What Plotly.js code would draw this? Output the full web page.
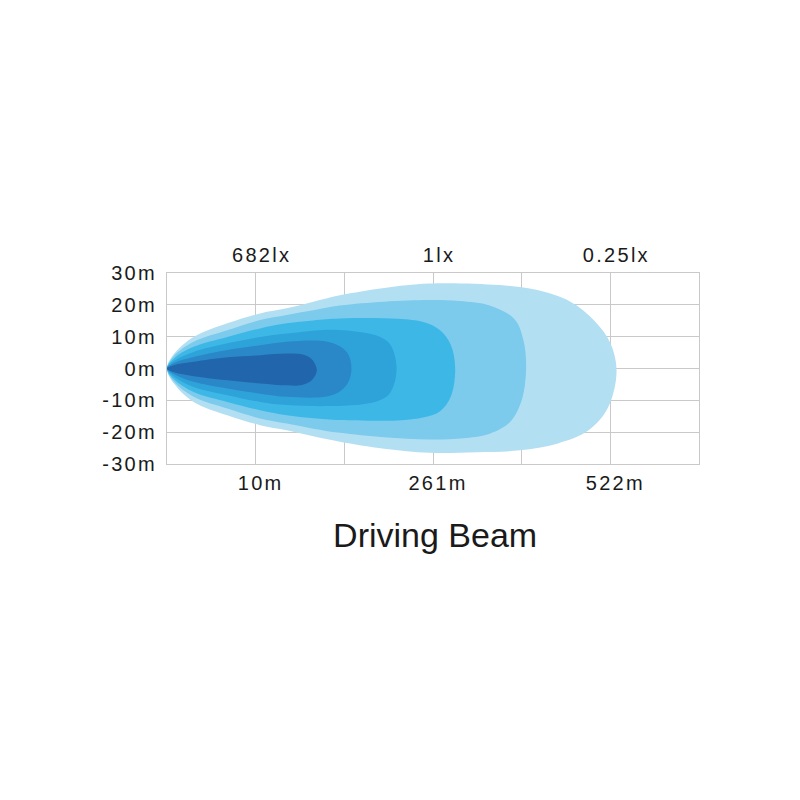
<!DOCTYPE html>
<html>
<head>
<meta charset="utf-8">
<script src="https://cdn.plot.ly/plotly-3.0.1.min.js"></script>
<style>
html,body{margin:0;padding:0;background:#fff;}
#chart .xtick text, #chart .x2tick text, #chart .ytick text { letter-spacing: 2.3px; }
</style>
</head>
<body>
<div id="chart" style="width:800px;height:800px;"></div>
<script>
// Beam contours (x in grid units 0..6, y in metres), darkest to lightest
const beam1X = [1.05, 0.68, 0.3, 0.08, 0, 0.08, 0.3, 0.68, 1.05, 1.35, 1.52, 1.63, 1.69, 1.63, 1.52, 1.35, 1.05];
const beam1Y = [4.2, 3.5, 2.1, 1.1, 0, -1.2, -2.4, -3.7, -4.7, -5.3, -5.2, -3.8, -0.5, 3.0, 4.5, 4.7, 4.2];

const beam2X = [1.05, 0.68, 0.3, 0.08, 0, 0.08, 0.3, 0.68, 1.05, 1.35, 1.8, 1.96, 2.05, 2.08, 2.05, 1.96, 1.8, 1.35, 1.05];
const beam2Y = [7.3, 5.8, 3.6, 1.7, 0, -1.8, -4.2, -6.3, -7.9, -8.9, -8.8, -7.0, -4.0, 0, 4.2, 6.8, 8.5, 8.4, 7.3];

const beam3X = [1.05, 0.68, 0.3, 0.08, 0, 0.08, 0.3, 0.68, 1.05, 1.35, 1.84, 2.21, 2.4, 2.52, 2.59, 2.52, 2.4, 2.21, 1.84, 1.35, 1.05];
const beam3Y = [9.9, 7.9, 5.2, 2.4, 0, -2.6, -5.8, -8.4, -10.5, -11.5, -11.8, -11.2, -10.0, -7.5, 0, 7.5, 10.0, 11.3, 12.2, 11.0, 9.9];

const beam4X = [1.05, 0.68, 0.3, 0.08, 0, 0.08, 0.3, 0.68, 1.05, 1.35, 1.65, 1.95, 2.6, 2.9, 3.08, 3.2, 3.25, 3.2, 3.08, 2.9, 2.6, 1.95, 1.65, 1.35, 1.05];
const beam4Y = [12.6, 9.9, 6.8, 3.2, 0, -3.4, -7.4, -10.5, -13.1, -14.7, -15.6, -16.2, -16.3, -15.3, -13.4, -8.9, 0, 7.5, 12.0, 14.5, 15.6, 15.7, 15.1, 14.2, 12.6];

const beam5X = [1.05, 0.68, 0.3, 0.08, 0, 0.08, 0.3, 0.68, 1.05, 1.35, 1.65, 1.95, 2.45, 2.96, 3.35, 3.64, 3.87, 4.0, 4.05, 4.02, 3.92, 3.64, 3.3, 2.96, 2.45, 1.95, 1.65, 1.35, 1.05];
const beam5Y = [15.2, 12.0, 8.4, 4.0, 0, -4.2, -8.9, -12.6, -15.7, -17.3, -18.9, -20.2, -21.6, -22.3, -21.9, -20.5, -16.8, -10.0, 0, 8.9, 15.5, 19.8, 21.2, 21.5, 21.0, 19.8, 18.3, 16.8, 15.2];

const beam6X = [1.05, 0.68, 0.3, 0.08, 0, 0.08, 0.3, 0.68, 1.05, 1.35, 1.65, 1.95, 2.45, 2.96, 3.5, 3.98, 4.4, 4.75, 4.97, 5.07, 5.0, 4.82, 4.55, 4.15, 3.75, 2.96, 2.45, 1.95, 1.65, 1.35, 1.05];
const beam6Y = [17.3, 14.2, 9.9, 4.6, 0, -4.8, -10.5, -14.7, -17.8, -19.4, -21.3, -23.0, -25.2, -26.5, -26.3, -25.7, -23.6, -19.5, -12.5, -1.0, 8.0, 15.0, 21.0, 24.8, 26.2, 26.7, 25.3, 23.0, 21.0, 18.9, 17.3];

const beamColors = ['#2166ac', '#2b88c8', '#2ea3da', '#3db8e6', '#7ccaec', '#b3dff3'];

// Axis ticks
const distTickVals = [1, 3, 5];
const distTickText = ['10m', '261m', '522m'];
const luxTickText = ['682lx', '1lx', '0.25lx'];
const widthTickVals = [30, 20, 10, 0, -10, -20, -30];
const widthTickText = ['30m', '20m', '10m', '0m', '-10m', '-20m', '-30m'];
const chartTitle = 'Driving Beam';

const beams = [
  [beam6X, beam6Y, beamColors[5]],
  [beam5X, beam5Y, beamColors[4]],
  [beam4X, beam4Y, beamColors[3]],
  [beam3X, beam3Y, beamColors[2]],
  [beam2X, beam2Y, beamColors[1]],
  [beam1X, beam1Y, beamColors[0]]
];

const traces = beams.map(b => ({
  type: 'scatter', mode: 'lines', x: b[0], y: b[1],
  fill: 'toself', fillcolor: b[2],
  line: {shape: 'spline', smoothing: 1, width: 0, color: b[2]},
  hoverinfo: 'skip', showlegend: false
}));

const tickFont = {family: 'Liberation Sans, Arial, sans-serif', size: 20, color: '#1a1a1a'};
const gridCol = '#c9c9c9';

const layout = {
  width: 800, height: 800,
  paper_bgcolor: '#ffffff', plot_bgcolor: '#ffffff',
  margin: {l: 167, r: 101, t: 273, b: 336, pad: 0},
  showlegend: false,
  title: {
    text: chartTitle,
    font: {family: 'Liberation Sans, Arial, sans-serif', size: 34, color: '#1a1a1a'},
    x: 0.504, xref: 'paper', xanchor: 'center',
    y: 1 - 535/800, yref: 'container', yanchor: 'middle'
  },
  xaxis: {
    range: [0, 6],
    tickvals: [0, 1, 2, 3, 4, 5, 6],
    ticktext: ['', distTickText[0], '', distTickText[1], '', distTickText[2], ''],
    showgrid: true, gridcolor: gridCol, gridwidth: 1,
    zeroline: false, showline: true, linecolor: gridCol, linewidth: 1, mirror: true,
    ticks: '', ticklabelstandoff: 1, ticklabelshift: 5,
    tickfont: tickFont, fixedrange: true
  },
  xaxis2: {
    range: [0, 6], overlaying: 'x', side: 'top', anchor: 'y',
    tickvals: distTickVals, ticktext: luxTickText,
    showgrid: false, zeroline: false, showline: false,
    ticks: '', ticklabelstandoff: 6, ticklabelshift: 6,
    tickfont: tickFont, fixedrange: true
  },
  yaxis: {
    range: [-30, 30],
    tickvals: widthTickVals, ticktext: widthTickText,
    showgrid: true, gridcolor: gridCol, gridwidth: 1,
    zeroline: false, showline: true, linecolor: gridCol, linewidth: 1, mirror: true,
    ticks: '', ticklabelstandoff: 5,
    tickfont: tickFont, fixedrange: true
  }
};

// a transparent helper so the top axis gets its own subplot
traces.push({type: 'scatter', mode: 'markers', x: [0], y: [0], xaxis: 'x2', yaxis: 'y',
  marker: {opacity: 0}, hoverinfo: 'skip', showlegend: false});

Plotly.newPlot('chart', traces, layout, {displayModeBar: false, staticPlot: true});
</script>
</body>
</html>
